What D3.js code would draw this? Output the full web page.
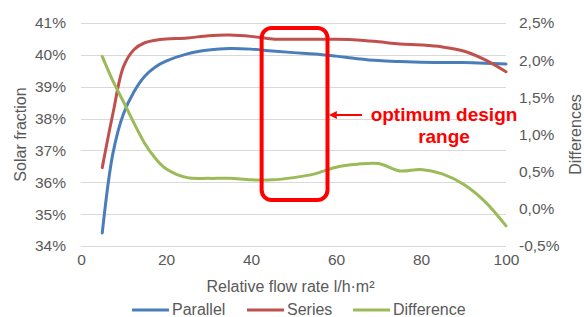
<!DOCTYPE html>
<html>
<head>
<meta charset="utf-8">
<script src="https://cdn.jsdelivr.net/npm/d3@7/dist/d3.min.js"></script>
<style>
    html, body { margin: 0; padding: 0; background: #ffffff; }
    #chart { width: 584px; height: 317px; }
</style>
</head>
<body>
<div id="chart"></div>
<script>
// flow rate l/h·m2
var flowRate = [5, 7.5, 10, 12.5, 15, 17.5, 20, 25, 30, 35, 40, 45, 50, 55, 60, 65, 70, 75, 80, 85, 90, 95, 100];
// solar fraction %, left axis
var parallel = [34.41, 36.9, 38.15, 38.85, 39.33, 39.62, 39.8, 40.03, 40.15, 40.2, 40.18, 40.12, 40.07, 40.03, 39.96, 39.88, 39.82, 39.79, 39.77, 39.76, 39.76, 39.74, 39.71];
var series = [36.46, 38.15, 39.63, 40.17, 40.38, 40.46, 40.5, 40.53, 40.6, 40.62, 40.58, 40.5, 40.49, 40.49, 40.49, 40.47, 40.41, 40.34, 40.31, 40.25, 40.12, 39.85, 39.47];
// differences %, right axis
var difference = [2.05, 1.72, 1.44, 1.15, 0.88, 0.68, 0.54, 0.42, 0.41, 0.41, 0.39, 0.39, 0.42, 0.47, 0.56, 0.6, 0.61, 0.51, 0.53, 0.47, 0.33, 0.1, -0.23];

var xTicks = [0, 20, 40, 60, 80, 100];
var leftTicks = [34, 35, 36, 37, 38, 39, 40, 41];
var rightTicks = [-0.5, 0, 0.5, 1, 1.5, 2, 2.5];
var legendNames = ['Parallel', 'Series', 'Difference'];
var optimumRange = [42.5, 58]; // flow rate range marked by the box

var _width = 584, _height = 317;
var _left = 81, _right = 506, _top = 23, _bottom = 246;
var _colors = ['#4a7ebb', '#c0504d', '#9bbb59'];
var _font = 'Liberation Sans, Arial, sans-serif';
var _textColor = '#595959';

var esLocale = d3.formatLocale({decimal: ',', thousands: '.', grouping: [3], currency: ['', ''], minus: '-'});
var fmtRight = esLocale.format('.1f');

var svg = d3.select('#chart').append('svg')
    .attr('width', _width)
    .attr('height', _height)
    .style('font-family', _font);

var x = d3.scaleLinear().domain([0, 100]).range([_left, _right]);
var yLeft = d3.scaleLinear().domain([34, 41]).range([_bottom, _top]);
var yRight = d3.scaleLinear().domain([-0.5, 2.5]).range([_bottom, _top]);

// gridlines (left axis)
svg.append('g')
    .selectAll('line')
    .data(leftTicks)
    .enter().append('line')
    .attr('x1', _left)
    .attr('x2', _right)
    .attr('y1', function(d) { return Math.round(yLeft(d)) + 0.5; })
    .attr('y2', function(d) { return Math.round(yLeft(d)) + 0.5; })
    .style('stroke', '#d9d9d9')
    .style('stroke-width', 1);

// left axis
var gLeft = svg.append('g')
    .attr('transform', 'translate(66,0)')
    .call(d3.axisLeft(yLeft).tickValues(leftTicks).tickSize(0).tickPadding(0)
        .tickFormat(function(d) { return d + '%'; }));
gLeft.select('.domain').remove();
gLeft.selectAll('text')
    .attr('fill', _textColor)
    .attr('font-size', 15.5)
    .attr('font-family', _font);

// right axis
var gRight = svg.append('g')
    .attr('transform', 'translate(519,0)')
    .call(d3.axisRight(yRight).tickValues(rightTicks).tickSize(0).tickPadding(0)
        .tickFormat(function(d) { return fmtRight(d) + '%'; }));
gRight.select('.domain').remove();
gRight.selectAll('text')
    .attr('fill', _textColor)
    .attr('font-size', 15.5)
    .attr('font-family', _font);

// bottom axis
var gBottom = svg.append('g')
    .attr('transform', 'translate(0,' + (_bottom + 8) + ')')
    .call(d3.axisBottom(x).tickValues(xTicks).tickSize(0).tickPadding(0));
gBottom.select('.domain').remove();
gBottom.selectAll('text')
    .attr('fill', _textColor)
    .attr('font-size', 15.5)
    .attr('font-family', _font);

// axis titles
svg.append('text')
    .attr('x', (_left + _right) / 2 - 3)
    .attr('y', 292)
    .attr('fill', _textColor)
    .attr('font-size', 16)
    .attr('text-anchor', 'middle')
    .text('Relative flow rate l/h\u00b7m\u00b2');

svg.append('text')
    .attr('transform', 'translate(20,' + ((_top + _bottom) / 2) + ')rotate(-90)')
    .attr('fill', _textColor)
    .attr('font-size', 16)
    .attr('text-anchor', 'middle')
    .attr('dominant-baseline', 'central')
    .text('Solar fraction');

svg.append('text')
    .attr('transform', 'translate(575,' + ((_top + _bottom) / 2) + ')rotate(-90)')
    .attr('fill', _textColor)
    .attr('font-size', 16)
    .attr('text-anchor', 'middle')
    .attr('dominant-baseline', 'central')
    .text('Differences');

// lines, smoothed like the spreadsheet
var lineLeft = d3.line()
    .x(function(d, i) { return x(flowRate[i]); })
    .y(function(d) { return yLeft(d); })
    .curve(d3.curveCatmullRom.alpha(0.5));
var lineRight = d3.line()
    .x(function(d, i) { return x(flowRate[i]); })
    .y(function(d) { return yRight(d); })
    .curve(d3.curveCatmullRom.alpha(0.5));

var lines = [
    {data: parallel, fn: lineLeft, color: _colors[0]},
    {data: series, fn: lineLeft, color: _colors[1]},
    {data: difference, fn: lineRight, color: _colors[2]}
];
lines.forEach(function(l) {
    svg.append('path')
        .attr('d', l.fn(l.data))
        .style('fill', 'none')
        .style('stroke', l.color)
        .style('stroke-width', 3)
        .style('stroke-linejoin', 'round')
        .style('stroke-linecap', 'round');
});

// optimum design box
svg.append('rect')
    .attr('x', x(optimumRange[0]))
    .attr('y', 28)
    .attr('width', x(optimumRange[1]) - x(optimumRange[0]))
    .attr('height', 172)
    .attr('rx', 10)
    .attr('ry', 10)
    .style('fill', 'none')
    .style('stroke', '#ff0000')
    .style('stroke-width', 4);

// arrow
svg.append('defs').append('marker')
    .attr('id', 'arrowHead')
    .attr('viewBox', '0 0 10 10')
    .attr('refX', 1)
    .attr('refY', 5)
    .attr('markerWidth', 4)
    .attr('markerHeight', 4)
    .attr('orient', 'auto-start-reverse')
    .append('path')
    .attr('d', 'M0,0L10,5L0,10z')
    .style('fill', '#ff0000');

svg.append('line')
    .attr('x1', 336)
    .attr('y1', 115)
    .attr('x2', 362)
    .attr('y2', 115)
    .attr('marker-start', 'url(#arrowHead)')
    .style('stroke', '#ff0000')
    .style('stroke-width', 2);

svg.append('text')
    .attr('x', 444)
    .attr('y', 121)
    .attr('fill', '#ff0000')
    .attr('font-size', 19)
    .attr('font-weight', 'bold')
    .attr('text-anchor', 'middle')
    .text('optimum design');
svg.append('text')
    .attr('x', 444)
    .attr('y', 143)
    .attr('fill', '#ff0000')
    .attr('font-size', 19)
    .attr('font-weight', 'bold')
    .attr('text-anchor', 'middle')
    .text('range');

// legend
var legendX = [132, 247, 353];
var gLegend = svg.append('g');
legendNames.forEach(function(name, i) {
    gLegend.append('line')
        .attr('x1', legendX[i])
        .attr('x2', legendX[i] + 37)
        .attr('y1', 310)
        .attr('y2', 310)
        .style('stroke', _colors[i])
        .style('stroke-width', 3);
    gLegend.append('text')
        .attr('x', legendX[i] + 40)
        .attr('y', 315)
        .attr('fill', _textColor)
        .attr('font-size', 16)
        .text(name);
});
</script>
</body>
</html>
